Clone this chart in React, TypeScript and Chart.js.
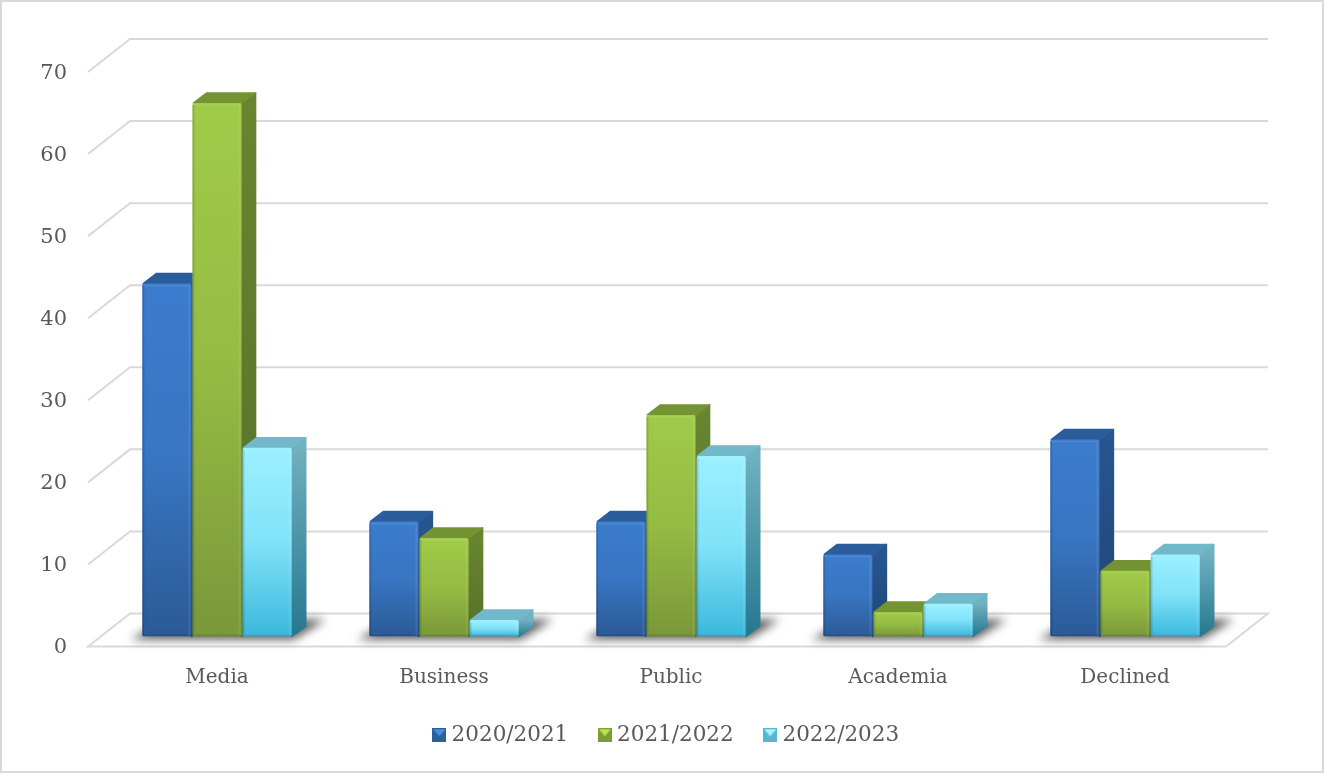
import React, { useEffect, useRef } from 'react';
import { Chart, registerables } from 'chart.js';

Chart.register(...registerables);

const categories = ['Media', 'Business', 'Public', 'Academia', 'Declined'];
const seriesNames = ['2020/2021', '2021/2022', '2022/2023'];
const values2020 = [43, 14, 14, 10, 24];
const values2021 = [65, 12, 27, 3, 8];
const values2022 = [23, 2, 22, 4, 10];
const yTicks = [0, 10, 20, 30, 40, 50, 60, 70];

const FONT = '"DejaVu Serif"';
const TEXT = '#595959';
const GRID = '#d9d9d9';

// front gradient, side gradient, top face, legend marker
const palette = [
  { light: '#3c7cce', mid: '#3875c2', dark: '#2b5a96', sideA: '#285590', sideB: '#1f4674', top: '#2b5d9c', mark: '#2d5f9f', tri: '#4a90e2' },
  { light: '#a0cb48', mid: '#95bb43', dark: '#79983a', sideA: '#688530', sideB: '#55702a', top: '#749433', mark: '#7c9c36', tri: '#b8e250' },
  { light: '#9cf0ff', mid: '#80e2f8', dark: '#3ab8dc', sideA: '#70b0bf', sideB: '#25788f', top: '#70b8ca', mark: '#55b8d0', tri: '#a8f3ff' },
];

// pseudo 3d depth
const DX = 14;
const DY = -10;

const makeMarker = (i: number) => {
  const c = document.createElement('canvas');
  c.width = 14;
  c.height = 14;
  const g = c.getContext('2d')!;
  const p = palette[i];
  g.fillStyle = p.mark;
  g.fillRect(0, 0, 14, 14);
  g.fillStyle = p.tri;
  g.beginPath();
  g.moveTo(1, 1);
  g.lineTo(13, 1);
  g.lineTo(7, 8);
  g.closePath();
  g.fill();
  return c;
};

const poly = (ctx: CanvasRenderingContext2D, pts: number[][]) => {
  ctx.beginPath();
  pts.forEach((p, i) => (i ? ctx.lineTo(p[0], p[1]) : ctx.moveTo(p[0], p[1])));
  ctx.closePath();
};

const depthPlugin = {
  id: 'depth',
  afterLayout(chart: any) {
    // legend sits a little left of the plot centre
    chart.legend.left -= 2.5;
    chart.legend.right -= 2.5;
  },
  beforeDatasetsDraw(chart: any) {
    const { ctx, chartArea, scales } = chart;
    const y = scales.y;
    const left = chartArea.left - 15.5;
    const right = chartArea.right - 12.5;

    // walls and floor
    ctx.save();
    ctx.strokeStyle = GRID;
    ctx.lineWidth = 2;
    yTicks.forEach((v) => {
      const py = y.getPixelForValue(v);
      ctx.beginPath();
      ctx.moveTo(left, py + 10);
      ctx.lineTo(left + 42, py - 23);
      ctx.lineTo(right + 42, py - 23);
      if (v === 0) {
        ctx.lineTo(right, py + 10);
        ctx.closePath();
      }
      ctx.stroke();
    });
    ctx.restore();

    // ground shadow
    ctx.save();
    ctx.filter = 'blur(5px)';
    ctx.fillStyle = 'rgba(50,50,50,0.8)';
    categories.forEach((_, i) => {
      const first = chart.getDatasetMeta(0).data[i];
      const last = chart.getDatasetMeta(2).data[i];
      const x0 = first.x - first.width / 2;
      const x1 = last.x + last.width / 2;
      const b = y.getPixelForValue(0);
      poly(ctx, [
        [x0 - 12, b + 3],
        [x1 + 2, b + 3],
        [x1 + 34, b - 17],
        [x1 + 10, b - 17],
        [x0 + 8, b - 8],
      ]);
      ctx.fill();
    });
    ctx.restore();

    // side and top faces, left series first so later ones sit in front
    ctx.save();
    ctx.lineJoin = 'round';
    ctx.lineWidth = 1.5;
    categories.forEach((_, i) => {
      palette.forEach((p, d) => {
        const bar = chart.getDatasetMeta(d).data[i];
        const x1 = bar.x + bar.width / 2;
        const x0 = bar.x - bar.width / 2;
        const grad = ctx.createLinearGradient(0, bar.y, 0, bar.base);
        grad.addColorStop(0, p.sideA);
        grad.addColorStop(1, p.sideB);
        ctx.fillStyle = grad;
        ctx.strokeStyle = grad;
        poly(ctx, [
          [x1, bar.y],
          [x1 + DX, bar.y + DY],
          [x1 + DX, bar.base + DY],
          [x1, bar.base],
        ]);
        ctx.fill();
        ctx.stroke();
        ctx.fillStyle = p.top;
        ctx.strokeStyle = p.top;
        poly(ctx, [
          [x0 + 1, bar.y],
          [x0 + DX, bar.y + DY],
          [x1 + DX, bar.y + DY],
          [x1, bar.y],
        ]);
        ctx.fill();
        ctx.stroke();
      });
    });
    ctx.restore();
  },
  afterDatasetsDraw(chart: any) {
    // bevel strips on the front faces
    const { ctx } = chart;
    ctx.save();
    palette.forEach((_, d) => {
      chart.getDatasetMeta(d).data.forEach((bar: any) => {
        const x0 = bar.x - bar.width / 2;
        const x1 = bar.x + bar.width / 2;
        ctx.fillStyle = 'rgba(0,0,0,0.13)';
        ctx.fillRect(x0, bar.y + 2, 2, bar.base - bar.y - 2);
        ctx.fillStyle = 'rgba(255,255,255,0.08)';
        ctx.fillRect(x1 - 3, bar.y + 2, 2, bar.base - bar.y - 3);
        ctx.fillRect(x0 + 2, bar.y + 1, bar.width - 4, 2);
        ctx.fillStyle = 'rgba(0,0,0,0.1)';
        ctx.fillRect(x0 + 2, bar.base - 2, bar.width - 3, 2);
      });
    });
    ctx.restore();
  },
  afterDraw(chart: any) {
    // value labels sit on the front edge of the floor, below the bar plane
    const { ctx, scales } = chart;
    ctx.save();
    ctx.font = `21px ${FONT}`;
    ctx.fillStyle = TEXT;
    ctx.textAlign = 'right';
    ctx.textBaseline = 'middle';
    yTicks.forEach((v) => {
      ctx.fillText(String(v), 67, scales.y.getPixelForValue(v) + 11.5);
    });
    ctx.restore();
  },
};

const frontFill = (i: number) => (c: any) => {
  const y = c.chart.scales?.y;
  const top = y?.getPixelForValue(c.raw);
  const bottom = y?.getPixelForValue(0);
  if (!Number.isFinite(top) || !Number.isFinite(bottom)) return palette[i].light;
  const grad = c.chart.ctx.createLinearGradient(0, top, 0, bottom);
  grad.addColorStop(0, palette[i].light);
  grad.addColorStop(0.5, palette[i].mid);
  grad.addColorStop(1, palette[i].dark);
  return grad;
};

const App: React.FC = () => {
  const chartRef = useRef<HTMLCanvasElement>(null);

  useEffect(() => {
    if (!chartRef.current) return;
    document.body.style.margin = '0';

    const series = [values2020, values2021, values2022];
    const chart = new Chart(chartRef.current, {
      type: 'bar',
      data: {
        labels: categories,
        datasets: series.map((data, i) => ({
          label: seriesNames[i],
          data,
          backgroundColor: frontFill(i),
          borderRadius: 2,
          borderSkipped: false,
          categoryPercentage: 150.5 / 227,
          barPercentage: 0.98,
          pointStyle: makeMarker(i),
        })),
      } as any,
      options: {
        animation: false,
        responsive: false,
        layout: { padding: { left: 103.5, right: 85.5, top: 62, bottom: 17 } },
        scales: {
          x: {
            grid: { display: false },
            border: { display: false },
            ticks: { color: TEXT, font: { family: FONT, size: 20 }, padding: 21, maxRotation: 0 },
            afterFit: (s: any) => {
              s.height = 53;
            },
          },
          y: { display: false, min: 0, max: 70 },
        },
        plugins: {
          tooltip: { enabled: false },
          legend: {
            position: 'bottom',
            labels: {
              color: TEXT,
              font: { family: FONT, size: 21.5 },
              usePointStyle: true,
              boxHeight: 14,
              pointStyleWidth: 3,
              padding: 35,
            },
          },
        },
      },
      plugins: [depthPlugin],
    } as any);

    return () => {
      chart.destroy();
    };
  }, []);

  return (
    <div
      style={{
        position: 'absolute',
        left: 0,
        top: 0,
        width: 1324,
        height: 773,
        background: '#fff',
        overflow: 'hidden',
      }}
    >
      <canvas ref={chartRef} width={1324} height={773} style={{ display: 'block' }} />
      <div
        style={{
          position: 'absolute',
          left: 0,
          top: 0,
          width: 1324,
          height: 773,
          boxSizing: 'border-box',
          border: '2px solid #d9d9d9',
          pointerEvents: 'none',
        }}
      />
    </div>
  );
};

export default App;
